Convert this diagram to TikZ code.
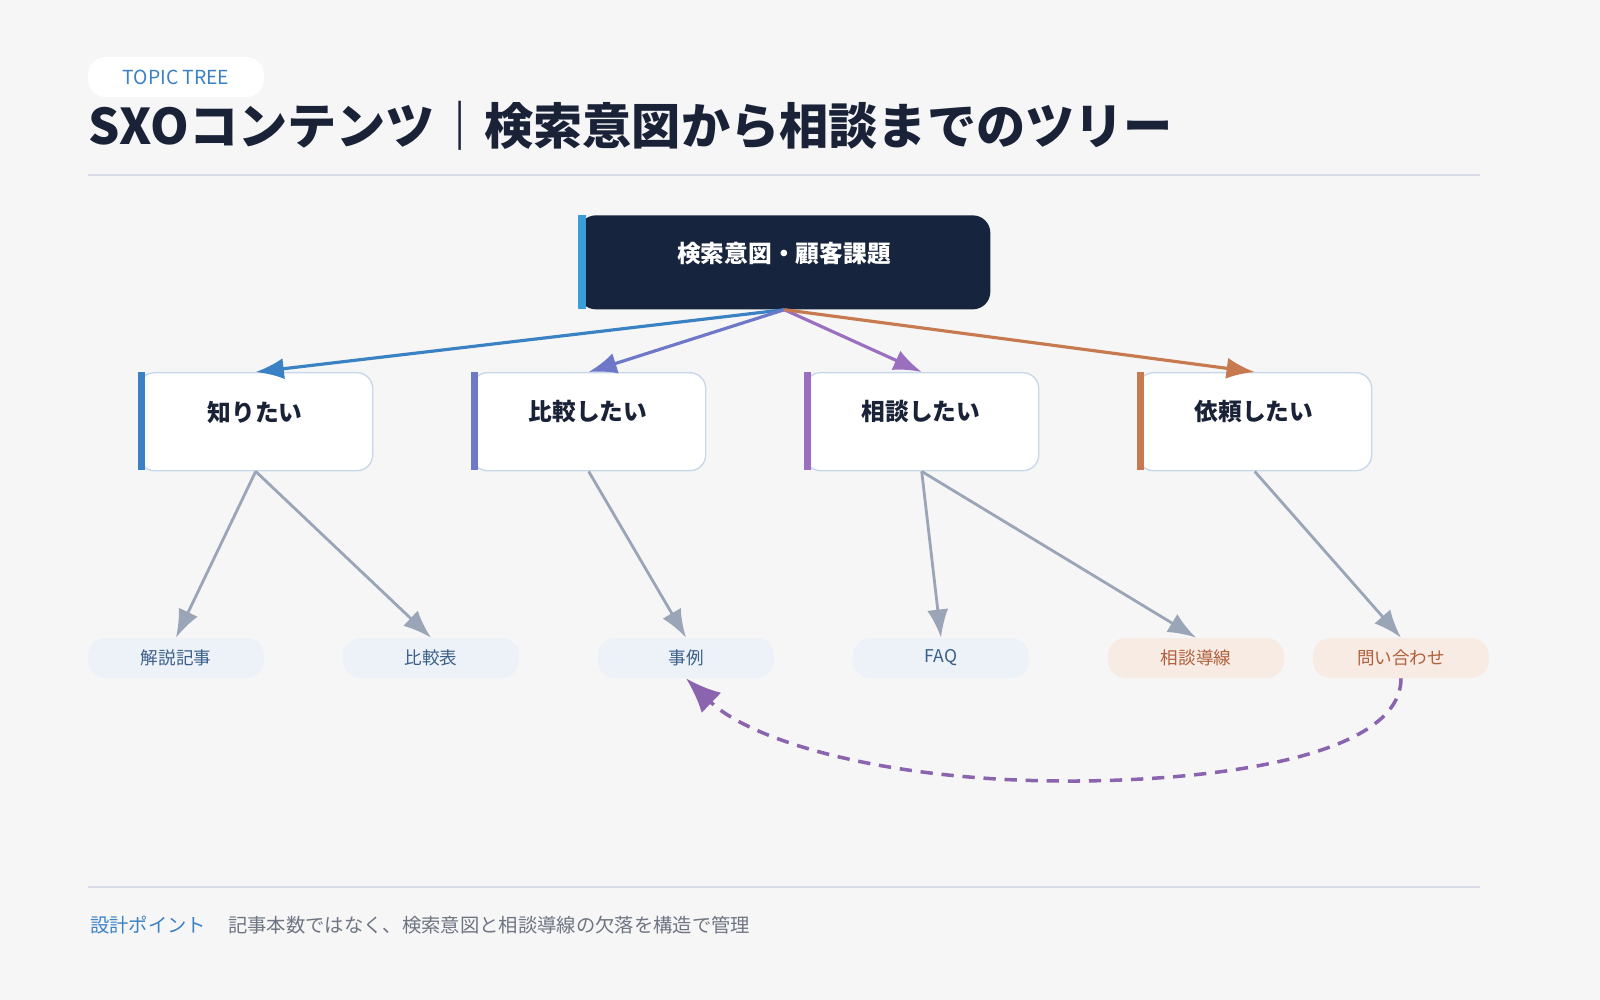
\documentclass[tikz,border=0pt]{standalone}
\usepackage{fontspec}
\setmainfont{Noto Sans CJK JP}
\usetikzlibrary{arrows.meta,positioning}
\definecolor{bg}{HTML}{F6F6F6}
\definecolor{navy}{HTML}{17243D}
\definecolor{ink}{HTML}{1A2238}
\definecolor{cblue}{HTML}{3B82C4}
\definecolor{cind}{HTML}{6E78C8}
\definecolor{cpur}{HTML}{9B6FC0}
\definecolor{cora}{HTML}{C77A50}
\definecolor{cgray}{HTML}{9AA6B8}
\definecolor{bd}{HTML}{C8D8EA}
\definecolor{lfb}{HTML}{EDF1F8}
\definecolor{lfo}{HTML}{F8EBE4}
\definecolor{ltb}{HTML}{3A5F8A}
\definecolor{lto}{HTML}{B0603A}
\definecolor{rule}{HTML}{D8DBE8}
\definecolor{acc}{HTML}{3A9FD8}
\definecolor{dpur}{HTML}{8B64B0}
\definecolor{dgray}{HTML}{6E7482}
\begin{document}
\begin{tikzpicture}[x=0.02cm,y=-0.02cm,
 mid/.style={draw=bd,line width=0.8pt,fill=white,rounded corners=9pt,minimum width=234*0.02cm,minimum height=98*0.02cm,anchor=north west},
 leaf/.style={rounded corners=10pt,minimum width=176*0.02cm,minimum height=40*0.02cm,font=\fontsize{10}{10}\selectfont},
 lb/.style={leaf,fill=lfb,text=ltb},
 lo/.style={leaf,fill=lfo,text=lto},
 ga/.style={draw=cgray,line width=1.6pt,-{Latex[length=16pt,width=12pt]}},
 ca/.style={line width=1.8pt,-{Latex[length=16pt,width=12pt]}},
 ml/.style={font=\bfseries\fontsize{13.5}{13.5}\selectfont,text=ink}]
\useasboundingbox (0,0) rectangle (1600,1000);
\fill[bg] (0,0) rectangle (1600,1000);
\node[fill=white,rounded corners=10pt,minimum width=176*0.02cm,minimum height=40*0.02cm,text=cblue,font=\fontsize{11}{11}\selectfont] (pill) at (176,77) {TOPIC TREE};
\node[anchor=west,text=ink,font=\bfseries\fontsize{28}{28}\selectfont] (title) at (82,126) {SXOコンテンツ｜検索意図から相談までのツリー};
\draw[rule,line width=1pt] (88,175) -- (1480,175);
% root
\node[fill=navy,rounded corners=10pt,minimum width=412*0.02cm,minimum height=94*0.02cm,anchor=north west] (root) at (578,215) {};
\fill[acc] (578,215) rectangle (586,309);
\node[text=white,font=\bfseries\fontsize{13.5}{13.5}\selectfont] (rootl) at (784,254) {検索意図・顧客課題};
% mids
\foreach \n/\x/\c/\t in {a/138/cblue/知りたい,b/471/cind/比較したい,c/804/cpur/相談したい,d/1137/cora/依頼したい}{
 \node[mid] (\n) at (\x,372) {};
 \fill[\c] (\x,372) rectangle ++(7,98);
 \node[ml] (\n l) at (\x+117,412) {\t};
}
\foreach \n/\c in {a/cblue,b/cind,c/cpur,d/cora}{
 \draw[ca,draw=\c,fill=\c] (root.south) -- (\n.north);
}
% leaves
\node[lb] (l1) at (176,658) {解説記事};
\node[lb] (l2) at (431,658) {比較表};
\node[lb] (l3) at (686,658) {事例};
\node[lb] (l4) at (941,658) {FAQ};
\node[lo] (l5) at (1196,658) {相談導線};
\node[lo] (l6) at (1401,658) {問い合わせ};
\draw[ga,fill=cgray] (a.south) -- (l1.north);
\draw[ga,fill=cgray] (a.south) -- (l2.north);
\draw[ga,fill=cgray] (b.south) -- (l3.north);
\draw[ga,fill=cgray] (c.south) -- (l4.north);
\draw[ga,fill=cgray] (c.south) -- (l5.north);
\draw[ga,fill=cgray] (d.south) -- (l6.north);
\draw[draw=dpur,line width=2pt,dash pattern=on 7pt off 5pt,-{Latex[length=20pt,width=16pt,fill=dpur]}]
 (l6.south) .. controls (1401,760) and (1200,782) .. (1060,781) .. controls (880,780) and (750,740) .. (l3.south);
\draw[rule,line width=1pt] (88,887) -- (1480,887);
\node[anchor=west,text=cblue,font=\fontsize{11}{11}\selectfont] (pt) at (84,925) {設計ポイント};
\node[anchor=west,text=dgray,font=\fontsize{11}{11}\selectfont] (desc) at (222,925) {記事本数ではなく、検索意図と相談導線の欠落を構造で管理};
\end{tikzpicture}
\end{document}
